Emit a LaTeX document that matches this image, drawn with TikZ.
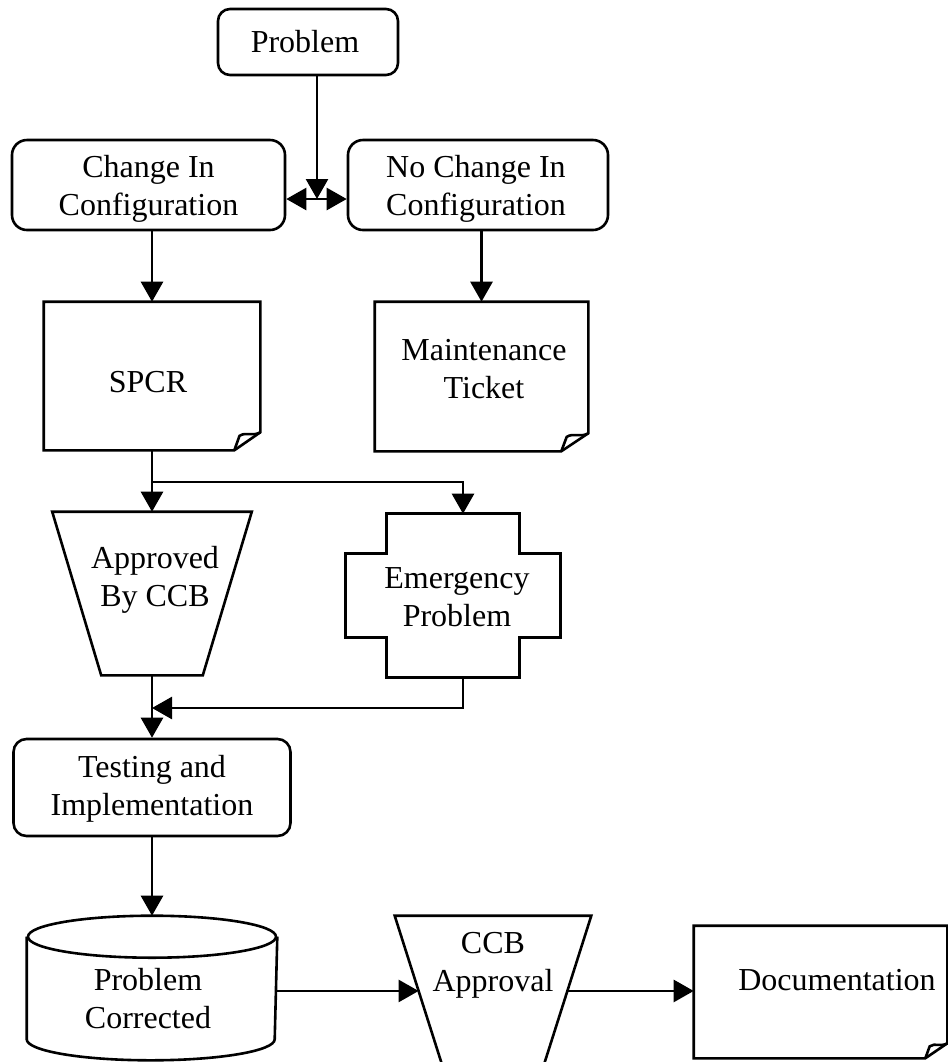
\documentclass[tikz,border=0pt]{standalone}
\usepackage{fontspec}
\setmainfont{Liberation Serif}
\usetikzlibrary{arrows.meta,calc}

% outline of a sheet with a curled bottom-right corner (#2 x #3 cut)
\newcommand\docoutline[3]{%
  \draw (#1.north west) -- (#1.north east) -- ($(#1.south east)+(0,-#3)$)
        -- ($(#1.south east)+(-#2,0)$) -- (#1.south west) -- cycle;
  \draw ($(#1.south east)+(-#2,0)$) -- ($(#1.south east)+(-0.8*#2,-0.8*#3)$)
        .. controls ($(#1.south east)+(-0.55*#2,-1.05*#3)$) and ($(#1.south east)+(-0.3*#2,-0.75*#3)$)
        .. ($(#1.south east)+(0,-#3)$);
}

\begin{document}
\begin{tikzpicture}[x=0.5pt,y=-0.5pt,
  line width=1.3pt,
  every node/.style={font=\fontsize{16pt}{19pt}\selectfont, align=center, inner sep=0pt},
  rbox/.style={draw, rectangle, rounded corners=7.5pt},
  frame/.style={rectangle, draw=none},
  tip/.tip={Triangle[length=10pt,width=11pt]},
  flow/.style={-tip},
  twoway/.style={tip-tip}
]
\useasboundingbox (0,0) rectangle (948,1062);
\clip (0,0) rectangle (948,1062);

% ---- top row -------------------------------------------------------
\node[rbox, rounded corners=6pt, minimum width=90pt, minimum height=33pt] (prob) at (308,42) {};
\node (prob-t) at (305,42) {Problem};

\node[rbox, minimum width=136.5pt, minimum height=45pt] (chg) at (148.5,185) {};
\node (chg-t) at (148.5,189) {Change In\\Configuration};

\node[rbox, minimum width=130pt, minimum height=45pt] (nochg) at (478,185) {};
\node (nochg-t) at (476,189) {No Change In\\Configuration};

\coordinate (split) at (317,199);
\draw[flow] (prob.south -| split) -- (split);
\draw[twoway] (chg.east |- split) -- (nochg.west |- split);

% ---- records ---------------------------------------------------------
\node[frame, minimum width=107pt, minimum height=73pt] (spcr) at (152,376) {};
\docoutline{spcr}{26}{18}
\node (spcr-t) at (148,382) {SPCR};

\node[frame, minimum width=105.5pt, minimum height=73.5pt] (maint) at (481.5,376.5) {};
\docoutline{maint}{27}{18}
\node (maint-t) at (484,369) {Maintenance\\Ticket};

\draw[flow] (chg.south -| spcr.north) -- (spcr.north);
\draw[flow] (nochg.south -| maint.north) -- (maint.north);

% ---- approval / emergency ------------------------------------------
\node[frame, minimum width=98.5pt, minimum height=80.5pt] (appr) at (152,593.5) {};
\draw (appr.north west) -- (appr.north east) -- ($(appr.south east)+(-49,0)$)
      -- ($(appr.south west)+(49,0)$) -- cycle;
\node (appr-t) at (155,580) {Approved\\By CCB};

\node[frame, minimum width=106pt, minimum height=80.5pt] (emerg) at (453,595.5) {};
\draw ($(emerg.north west)+(41,0)$) -- ($(emerg.north east)+(-41,0)$) -- ++(0,40)
      -- ($(emerg.north east)+(0,40)$) -- ($(emerg.south east)+(0,-40)$) -- ++(-41,0)
      -- ($(emerg.south east)+(-41,0)$) -- ($(emerg.south west)+(41,0)$) -- ++(0,-40)
      -- ($(emerg.south west)+(0,-40)$) -- ($(emerg.north west)+(0,40)$) -- ++(41,0) -- cycle;
\node (emerg-t) at (457,597) {Emergency\\Problem};

\coordinate (branch) at (152,482);
\coordinate (emerg-in) at ($(emerg.north)+(10,0)$);
\coordinate (emerg-out) at ($(emerg.south)+(10,0)$);
\coordinate (merge) at (152,708);
\draw[flow] (spcr.south) -- (appr.north);
\draw[flow] (branch) -| (emerg-in);

% ---- testing ---------------------------------------------------------
\node[rbox, rounded corners=6.5pt, minimum width=138.5pt, minimum height=48.5pt] (test) at (152,787.5) {};
\node (test-t) at (152,789) {Testing and\\Implementation};

\draw[flow] (appr.south) -- (test.north);
\draw[flow] (emerg-out) |- (merge);

% ---- bottom row ----------------------------------------------------
\node[frame, minimum width=124pt, minimum height=71pt] (cyl) at (152,988) {};
\draw ($(cyl.north west)+(0,21)$) -- ($(cyl.south west)+(0,-21)$)
      arc[start angle=180, end angle=360, x radius=62pt, y radius=10.5pt]
      -- ($(cyl.north east)+(0,21)$);
\draw ($(cyl.north)+(0,21)$) ellipse[x radius=62pt, y radius=10.5pt];
\node (cyl-t) at (148,999) {Problem\\Corrected};

\draw[flow] (test.south) -- (cyl.north);

\node[frame, minimum width=97pt, minimum height=80.5pt] (ccb) at (493,997.5) {};
\coordinate (ccb-bl) at ($(ccb.south west)+(52,0)$);
\coordinate (ccb-br) at ($(ccb.south east)+(-52,0)$);
\draw (ccb.north west) -- (ccb.north east) -- (ccb-br) -- (ccb-bl) -- cycle;
\node (ccb-t) at (493,965) {CCB\\Approval};
\coordinate (ccb-in) at ($(ccb.north west)!0.46!(ccb-bl)$);
\coordinate (ccb-out) at ($(ccb.north east)!0.46!(ccb-br)$);

\node[frame, minimum width=125.5pt, minimum height=65pt] (doc) at (820.5,992) {};
\docoutline{doc}{22}{15}
\node (doc-t) at (837,980) {Documentation};

\draw[flow] (cyl.east |- ccb-in) -- (ccb-in);
\draw[flow] (ccb-out) -- (doc.west |- ccb-out);
\end{tikzpicture}
\end{document}
